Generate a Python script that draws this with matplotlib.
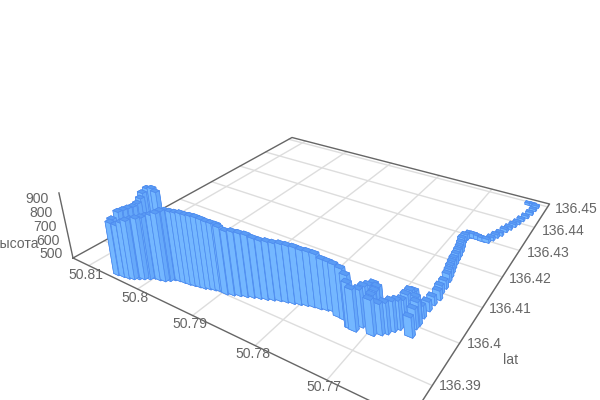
import numpy as np
import matplotlib
matplotlib.use('Agg')
import matplotlib.pyplot as plt

plt.rcParams['font.family'] = ['Liberation Sans', 'DejaVu Sans']

# track points, in the order they were recorded
lons = [50.76292,50.76224,50.7617,50.76176,50.76187,50.76216,50.76246,50.76271,50.76299,50.76332,
        50.76367,50.76392,50.7643,50.7646,50.76498,50.76562,50.76633,50.76699,50.76756,50.76796,
        50.76793,50.7676,50.76733,50.76714,50.767,50.76686,50.76668,50.76646,50.76626,50.7661,
        50.76589,50.7659,50.76559,50.76579,50.76583,50.76585,50.7659,50.76554,50.76579,50.76572,
        50.76612,50.7667,50.76698,50.76699,50.76703,50.76735,50.76776,50.76824,50.76877,50.76956,
        50.76976,50.76986,50.76988,50.77037,50.77088,50.77134,50.77139,50.77174,50.77223,50.77236,
        50.77369,50.77473,50.77592,50.77666,50.77753,50.77847,50.77933,50.78017,50.78102,50.78191,
        50.7828,50.78362,50.78442,50.78529,50.78616,50.78698,50.78786,50.7887,50.78957,50.78999,
        50.79075,50.79146,50.79217,50.79283,50.7936,50.79437,50.79515,50.79599,50.79684,50.79758,
        50.79804,50.79856,50.7993,50.80016,50.80063,50.80128,50.80186,50.80247,50.80312,50.80404,
        50.80502,50.80559,50.80616,50.80576,50.80536,50.8049,50.80444,50.80443,50.80459,50.80463,
        50.80357,50.80253]
lats = [136.44893,136.44912,136.44868,136.44693,136.44498,136.44311,136.44141,136.43977,136.43827,136.43681,
        136.43543,136.43361,136.43242,136.431,136.42971,136.4296,136.4297,136.42977,136.42956,136.42853,
        136.42685,136.42528,136.42375,136.42231,136.42087,136.41934,136.41799,136.41656,136.4153,136.41392,
        136.41182,136.41015,136.40838,136.40664,136.40478,136.40269,136.40091,136.39763,136.39969,136.4007,
        136.4018,136.40278,136.40205,136.4006,136.39915,136.39824,136.39735,136.3963,136.3956,136.39479,
        136.39599,136.3973,136.39822,136.3983,136.3976,136.39703,136.39557,136.39417,136.39432,136.39429,
        136.39558,136.39569,136.3964,136.39609,136.39578,136.39561,136.3953,136.39492,136.39454,136.39424,
        136.39392,136.39347,136.393,136.39261,136.39221,136.39176,136.39136,136.3909,136.3905,136.39068,
        136.39052,136.39027,136.39001,136.38968,136.38951,136.38931,136.38912,136.38901,136.3889,136.38864,
        136.38802,136.38748,136.38722,136.38708,136.38648,136.38594,136.38547,136.38497,136.38465,136.38449,
        136.38429,136.38526,136.38724,136.38795,136.38866,136.38931,136.38996,136.39074,136.3915,136.39278,
        136.39274,136.3923]
heights = [480,477,479,479,483,482,482,482,485,484,485,487,487,487,489,491,494,497,500,502,
           507,509,511,514,514,515,517,520,519,519,518,518,526,519,525,544,563,588,590,612,
           613,621,636,641,637,647,655,659,658,687,685,682,688,699,695,692,701,727,753,801,
           795,802,785,795,822,825,828,840,845,848,845,851,854,864,880,887,892,892,913,917,
           920,925,935,945,946,945,949,943,940,941,943,929,912,896,890,883,877,867,850,823,
           829,828,840,846,852,859,878,902,927,939,953,948]

lon_ticks = [50.77, 50.78, 50.79, 50.8, 50.81]
lat_ticks = [136.39, 136.4, 136.41, 136.42, 136.43, 136.44, 136.45]
z_ticks = [500, 600, 700, 800, 900]
lon_label_xy = [(324, 387), (253, 354), (190, 324), (135, 298), (86, 275)]
lat_label_xy = [(460, 386), (484, 344), (510, 309), (530.5, 279), (548, 253), (563, 231), (576.5, 209)]
z_label_xy = [(51.5, 254.5), (48, 241), (45, 227), (41, 213), (37.5, 199)]

# extent of the box and where its floor corners sit in the picture
lon_hi, lon_lo = 50.8135, 50.76
lat_lo, lat_hi = 136.383, 136.4515
z_lo, z_hi = 471, 936
corners = [(73, 258), (292, 137.5), (549.5, 204), (410, 420)]
vp = (736, 3974)

uv = [(1, 0), (1, 1), (0, 1), (0, 0)]
a, b = [], []
for (u, v), (x, y) in zip(uv, corners):
    a.append([u, v, 1, 0, 0, 0, -u * x, -v * x])
    b.append(x)
    a.append([0, 0, 0, u, v, 1, -u * y, -v * y])
    b.append(y)
h = np.linalg.solve(np.array(a, float), np.array(b, float))
H = np.array([[h[0], h[1], h[2]], [h[3], h[4], h[5]], [h[6], h[7], 1.0]])
wA = (H @ [1, 0, 1])[2]
s = wA * (194 - corners[0][1]) / (vp[1] - 194) / (z_hi - z_lo)
V = np.array([vp[0], vp[1], 1.0])
G = np.column_stack([H[:, 0], H[:, 1], s * V, H[:, 2] - s * z_lo * V])
N = np.array([[1 / (lon_hi - lon_lo), 0, 0, -lon_lo / (lon_hi - lon_lo)],
              [0, 1 / (lat_hi - lat_lo), 0, -lat_lo / (lat_hi - lat_lo)],
              [0, 0, 1, 0],
              [0, 0, 0, 1]])
G = G @ N

fig = plt.figure(figsize=(6, 4), dpi=100)
ax = fig.add_axes([0, 0, 1, 1], projection='3d', computed_zorder=False)
ax.apply_aspect = lambda position=None: None
ax.set_axis_off()


def get_proj():
    flip = np.array([[1, 0, 0], [0, -1, 400], [0, 0, 1.0]])
    g = ax.transData.inverted().get_matrix() @ flip @ G
    return np.array([g[0], g[1], [0, 0, 0, -1.0], g[2]])


ax.get_proj = get_proj

for t in [lon_lo] + lon_ticks:
    ax.plot([t, t], [lat_lo, lat_hi], [z_lo, z_lo], color='#dddddd', lw=1, zorder=1)
for t in lat_ticks:
    ax.plot([lon_lo, lon_hi], [t, t], [z_lo, z_lo], color='#dddddd', lw=1, zorder=1)
ax.plot([lon_hi, lon_hi, lon_lo, lon_lo, lon_hi], [lat_lo, lat_hi, lat_hi, lat_lo, lat_lo],
        [z_lo] * 5, color='#666666', lw=1, zorder=2)
ax.plot([lon_hi, lon_hi + 0.0006], [lat_lo, lat_lo], [z_lo, z_hi], color='#666666', lw=1, zorder=2)

depth = [(G @ [x, y, z_lo, 1])[2] for x, y in zip(lons, lats)]
order = np.argsort(depth)[::-1]
faces = ['#5a9cf5', '#5a9cf5', '#74b7ff', '#5a9cf5', '#66a9fa', '#5a9cf5']
dx, dy = 0.00105, 0.0009
for n, i in enumerate(order):
    ax.bar3d(lons[i] - dx / 2, lats[i] - dy / 2, z_lo, dx, dy, heights[i] - z_lo + 8,
             color=faces, edgecolor='#4f8df0', linewidth=0.5, shade=False, zorder=3 + n)

text_kw = dict(color='#666666', fontsize=10.1, va='center')


def label(x, y, s, ha='center'):
    fig.text(x / 600, 1 - y / 400, s, ha=ha, **text_kw)


for t, (x, y) in zip(lon_ticks, lon_label_xy):
    label(x, y, f'{t:g}')
for t, (x, y) in zip(lat_ticks, lat_label_xy):
    label(x, y, f'{t:g}')
for t, (x, y) in zip(z_ticks, z_label_xy):
    label(x, y, str(t))
label(511, 360, 'lat')
label(39, 244, 'высота', ha='right')

fig.savefig('out.png', dpi=100)
